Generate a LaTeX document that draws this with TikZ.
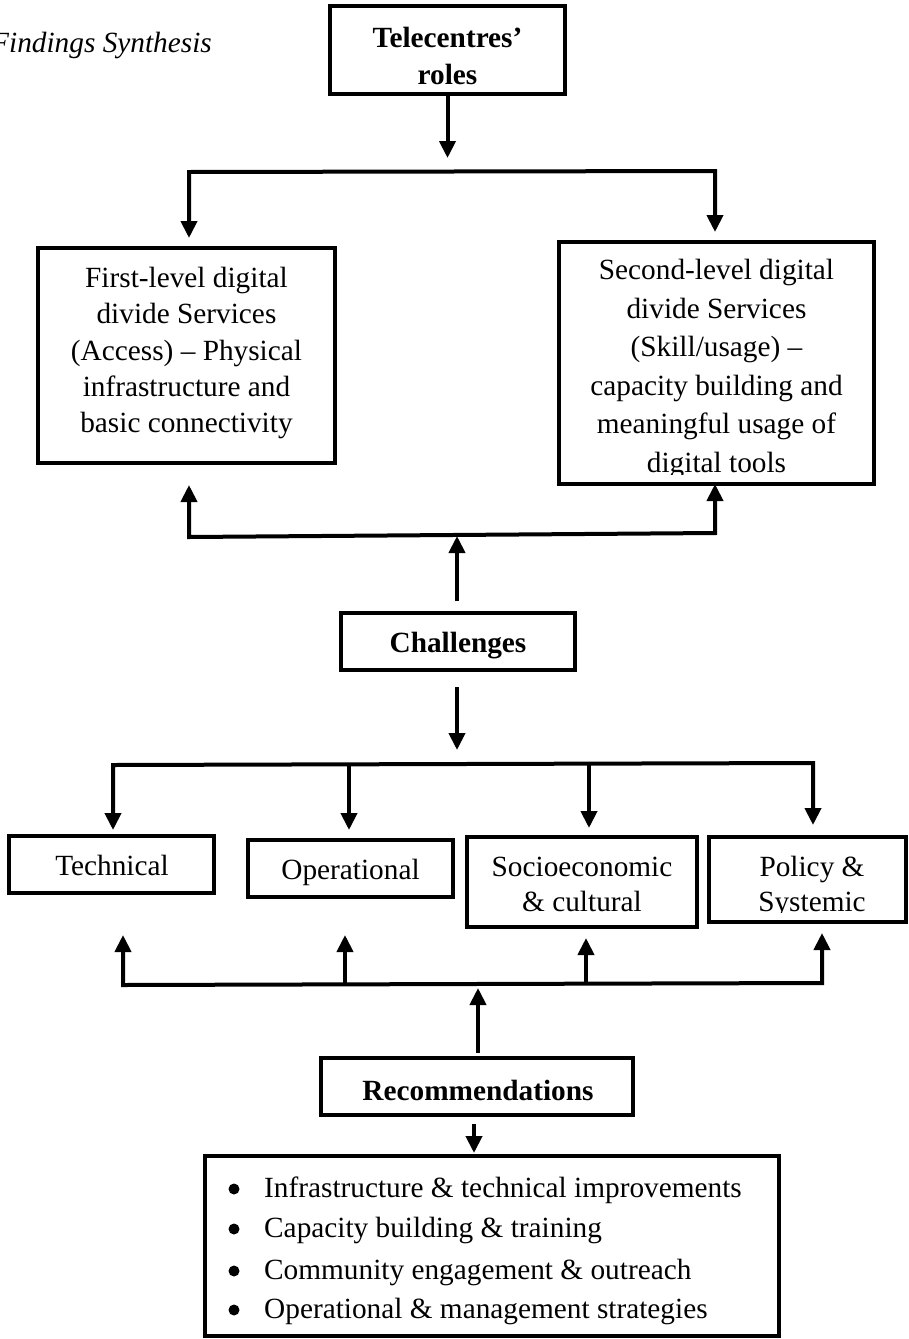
\documentclass[tikz,border=0pt]{standalone}
\usepackage{fontspec}
\setmainfont{Liberation Serif}
\usetikzlibrary{arrows.meta}
\tikzset{
  boxed/.style 2 args={draw=black, line width=3.4pt, inner sep=0pt, minimum width=#1, minimum height=#2},
  txt/.style={inner sep=0pt, align=center, font=\fontsize{29.3pt}{36pt}\selectfont},
  link/.style={line width=4pt, line join=miter},
  arr/.style={-{Triangle[length=17pt,width=16pt]}},
  tipboth/.style={{Triangle[length=17pt,width=16pt]}-{Triangle[length=17pt,width=16pt]}},
  bulletdot/.style={fill=black}
}
\begin{document}
\begin{tikzpicture}[x=1pt,y=-1pt]
\fill[white] (0,0) rectangle (909,1339);
\useasboundingbox (0,0) rectangle (909,1339);

% title
\node[anchor=base east, inner sep=0pt, font=\fontsize{29.3pt}{35pt}\selectfont\itshape] (title) at (212,52) {Findings Synthesis};

% top box
\node[boxed={235pt}{88pt}] (tele) at (447.5,50) {};
\node[txt, font=\fontsize{29.3pt}{37pt}\selectfont\bfseries] (telet) at (447.5,56) {Telecentres’\\roles};

% first level
\node[boxed={297pt}{215pt}] (first) at (186.5,355.5) {};
\node[txt, font=\fontsize{29.3pt}{36.3pt}\selectfont] (firstt) at (186.5,353) {First-level digital\\divide Services\\(Access) – Physical\\infrastructure and\\basic connectivity};

% second level
\node[boxed={315pt}{242pt}] (second) at (716.5,363) {};
\begin{scope}
\clip (559,242) rectangle (874,474);
\node[txt, font=\fontsize{29.3pt}{38.6pt}\selectfont] (secondt) at (716.5,369) {Second-level digital\\divide Services\\(Skill/usage) –\\capacity building and\\meaningful usage of\\digital tools};
\end{scope}

% challenges
\node[boxed={234pt}{57pt}] (chal) at (458,641.5) {};
\node[txt, font=\fontsize{29.3pt}{35pt}\selectfont\bfseries] (chalt) at (458,645.5) {Challenges};

% four categories
\node[boxed={205pt}{57pt}] (tech) at (111.5,864.5) {};
\node[txt] (techt) at (112,865) {Technical};
\node[boxed={205pt}{57pt}] (oper) at (350.5,868.5) {};
\node[txt] (opert) at (350.5,872.5) {Operational};
\node[boxed={230pt}{90pt}] (socio) at (582,882) {};
\node[txt, font=\fontsize{29.3pt}{35pt}\selectfont] (sociot) at (582,884) {Socioeconomic\\\& cultural};
\node[boxed={197pt}{85pt}] (policy) at (807.5,879.5) {};
\begin{scope}
\clip (709,837) rectangle (906,912);
\node[txt, font=\fontsize{29.3pt}{35pt}\selectfont] (policyt) at (812,887) {Policy \&\\Systemic};
\end{scope}

% recommendations
\node[boxed={312pt}{57pt}] (rec) at (477,1086.5) {};
\node[txt, font=\fontsize{29.3pt}{35pt}\selectfont\bfseries] (rect) at (478,1090) {Recommendations};

% list box
\node[boxed={574pt}{180pt}] (list) at (492,1246) {};
\foreach \n/\yy/\t in {a/1197.5/Infrastructure \& technical improvements,
                       b/1237.5/Capacity building \& training,
                       c/1279.5/Community engagement \& outreach,
                       d/1318.5/Operational \& management strategies}{
  \coordinate (bul\n) at (234,\yy-8.5);
  \fill[bulletdot] (bul\n) circle (5.5pt);
  \node[anchor=base west, inner sep=0pt, font=\fontsize{29.3pt}{35pt}\selectfont] (item\n) at (264,\yy) {\t};
}

% ---- connectors ----
\coordinate (t1) at (447.5,158);
\draw[link, arr] (tele.south) -- (t1);

\coordinate (h1a) at (189,238);
\coordinate (h1b) at (189,172);
\coordinate (h1c) at (715,171);
\coordinate (h1d) at (715,232);
\draw[link, tipboth] (h1a) -- (h1b) -- (h1c) -- (h1d);

\coordinate (h2a) at (189,485);
\coordinate (h2b) at (189,537);
\coordinate (h2c) at (715,533);
\coordinate (h2d) at (715,484);
\draw[link, tipboth] (h2a) -- (h2b) -- (h2c) -- (h2d);
\coordinate (m1a) at (457,601);
\coordinate (m1b) at (457,536);
\draw[link, arr] (m1a) -- (m1b);

\coordinate (c1) at (457,687);
\coordinate (c2) at (457,750);
\draw[link, arr] (c1) -- (c2);

\coordinate (h3a) at (113,830);
\coordinate (h3b) at (113,765);
\coordinate (h3c) at (813,763);
\coordinate (h3d) at (813,825);
\draw[link, tipboth] (h3a) -- (h3b) -- (h3c) -- (h3d);
\coordinate (h3o) at (349,764.5);
\coordinate (h3oe) at (349,830);
\draw[link, arr] (h3o) -- (h3oe);
\coordinate (h3s) at (589,763.8);
\coordinate (h3se) at (589,828);
\draw[link, arr] (h3s) -- (h3se);

\coordinate (h4a) at (123,935);
\coordinate (h4b) at (123,985);
\coordinate (h4c) at (822,983);
\coordinate (h4d) at (822,933);
\draw[link, tipboth] (h4a) -- (h4b) -- (h4c) -- (h4d);
\coordinate (h4o) at (345,984.5);
\coordinate (h4oe) at (345,935);
\draw[link, arr] (h4o) -- (h4oe);
\coordinate (h4s) at (586,983.8);
\coordinate (h4se) at (586,938);
\draw[link, arr] (h4s) -- (h4se);

\coordinate (r1) at (478,1053);
\coordinate (r2) at (478,988);
\draw[link, arr] (r1) -- (r2);

\coordinate (d1) at (474,1124);
\coordinate (d2) at (474,1153);
\draw[link, arr] (d1) -- (d2);
\end{tikzpicture}
\end{document}
